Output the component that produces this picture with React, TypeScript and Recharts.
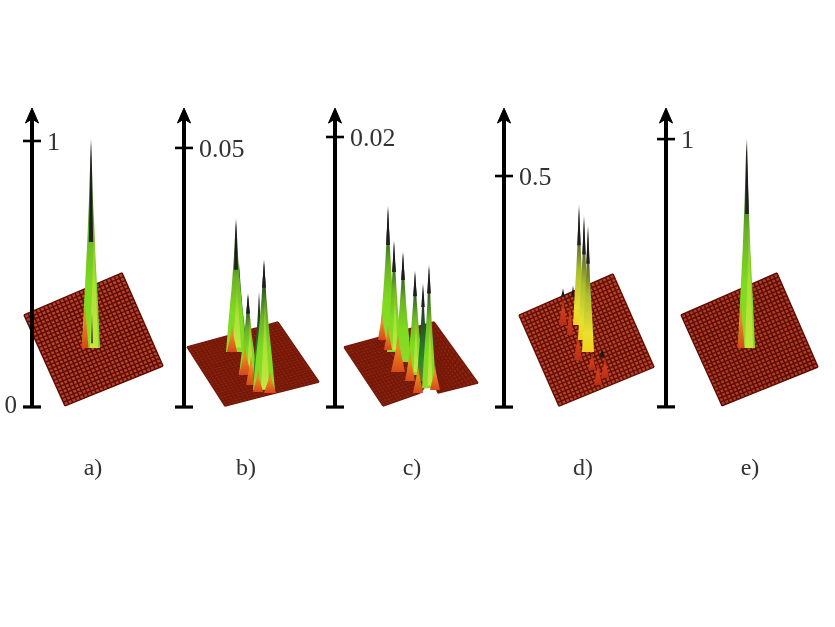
import React from "react";
import { ComposedChart, Area, Line, XAxis, YAxis } from "recharts";

type Pt = [number, number];
// strand: x, half width, base height, peak height, colour ramp
type Strand = [number, number, number, number, string];

// Heights are fractions of each panel's labelled tick value; x is the distance from the panel's axis.
const panelLabels = ["a)", "b)", "c)", "d)", "e)"];
const tickLabels = ["1", "0.05", "0.02", "0.5", "1"];
const zeroLabels = ["0", "", "", "", ""];
const panelLefts = [2, 154, 305, 474, 636];
const panelWidths = [135, 140, 150, 155, 160];
const yMins = [-0.049, -0.05, -0.048, -0.056, -0.049];
const yMaxs = [1.154, 1.185, 1.137, 1.329, 1.146];
const arrowTops = [1.124, 1.154, 1.107, 1.294, 1.116];
const captionXs = [61, 62, 77, 79, 84];

const floorsA: Pt[][] = [[[-8, 0.346], [90, 0.504], [131, 0.154], [33, 0.004]]];
const floorsB: Pt[][] = [[[3, 0.232], [94, 0.328], [135, 0.097], [41, 0.004]]];
const floorsC: Pt[][] = [
  [[9, 0.222], [42, 0.256], [85, 0.052], [48, 0.004]],
  [[97, 0.111], [99, 0.315], [143, 0.089], [103, 0.052]],
  [[42, 0.256], [99, 0.315], [97, 0.111], [85, 0.052]],
];
const floorsD: Pt[][] = [[[15, 0.398], [109, 0.576], [150, 0.173], [55, 0.004]]];
const floorsE: Pt[][] = [[[15, 0.343], [111, 0.5], [152, 0.149], [56, 0.004]]];

const strandsA: Strand[] = [
  [59, 9, 0.222, 1.015, "green"],
  [53, 3.5, 0.222, 0.4, "orange"],
  [62, 4, 0.222, 0.72, "lime"],
  [59, 2.2, 0.62, 1.015, "tip"],
  [60, 0.8, 0.24, 0.36, "tip"],
];
const strandsB: Strand[] = [
  [55, 8, 0.22, 0.56, "dark"],
  [52, 10, 0.212, 0.73, "green"],
  [53, 4, 0.23, 0.5, "lime"],
  [52, 2, 0.53, 0.73, "tip"],
  [48, 5, 0.212, 0.317, "orange"],
  [64, 9, 0.124, 0.44, "green"],
  [66, 3, 0.13, 0.36, "lime"],
  [64, 2, 0.36, 0.44, "tip"],
  [61, 6, 0.124, 0.239, "orange"],
  [67, 5, 0.085, 0.2, "orange"],
  [75, 6, 0.104, 0.452, "dark"],
  [80, 11, 0.066, 0.571, "green"],
  [81, 4, 0.07, 0.43, "lime"],
  [80, 2, 0.46, 0.571, "tip"],
  [74, 5, 0.058, 0.143, "orange"],
  [86, 6, 0.054, 0.135, "orange"],
];
const strandsC: Strand[] = [
  [53, 8, 0.248, 0.748, "green"],
  [53, 2, 0.6, 0.748, "tip"],
  [47, 4, 0.248, 0.352, "orange"],
  [59, 7, 0.204, 0.619, "green"],
  [59, 2, 0.5, 0.619, "tip"],
  [60, 2.5, 0.21, 0.46, "lime"],
  [53, 4, 0.211, 0.304, "orange"],
  [68, 8, 0.167, 0.578, "green"],
  [68, 2, 0.47, 0.578, "tip"],
  [63, 7, 0.13, 0.267, "orange"],
  [80, 8, 0.119, 0.507, "green"],
  [80, 2, 0.41, 0.507, "tip"],
  [81, 2.5, 0.13, 0.36, "lime"],
  [75, 5, 0.096, 0.211, "orange"],
  [88, 6, 0.096, 0.459, "dark"],
  [88, 1.8, 0.37, 0.459, "tip"],
  [94, 7, 0.07, 0.53, "green"],
  [94, 2, 0.42, 0.53, "tip"],
  [95, 2.5, 0.08, 0.36, "lime"],
  [83, 5, 0.052, 0.156, "orange"],
  [100, 5, 0.063, 0.156, "orange"],
];
const strandsD: Strand[] = [
  [59, 4, 0.355, 0.485, "red"],
  [66, 3, 0.312, 0.463, "red"],
  [59, 2, 0.476, 0.515, "tip"],
  [69, 2, 0.476, 0.528, "tip"],
  [74, 4, 0.203, 0.333, "red"],
  [88, 4, 0.16, 0.238, "red"],
  [94, 4, 0.095, 0.203, "red"],
  [101, 4, 0.126, 0.225, "red"],
  [98, 3, 0.216, 0.251, "tip"],
  [75, 6, 0.355, 0.879, "yellow"],
  [75, 1.8, 0.7, 0.879, "tip"],
  [80, 6, 0.29, 0.831, "yellow"],
  [80, 1.8, 0.66, 0.831, "tip"],
  [84, 6, 0.238, 0.788, "yellow"],
  [84, 1.8, 0.62, 0.788, "tip"],
];
const strandsE: Strand[] = [
  [80.5, 8.5, 0.22, 1.007, "green"],
  [75, 3.5, 0.22, 0.4, "orange"],
  [83, 4, 0.22, 0.72, "lime"],
  [81, 2, 0.72, 1.007, "tip"],
];

const floorCells = [
  [[25, 25]],
  [[25, 25]],
  [[11, 21], [11, 14], [11, 11]],
  [[25, 25]],
  [[25, 25]],
];
const allFloors = [floorsA, floorsB, floorsC, floorsD, floorsE];
const allStrands = [strandsA, strandsB, strandsC, strandsD, strandsE];
const floorFills = ["#b8432a", "#8e2410", "#8e2410", "#b8432a", "#b03c24"];
const meshStrokes = ["#5c0e06", "#741808", "#741808", "#620f06", "#5c0e06"];

const ramps: Record<string, [number, string][]> = {
  green: [[0, "#c8c8c8"], [0.05, "#222"], [0.17, "#2a3d18"], [0.3, "#447a22"], [0.45, "#6db325"], [0.7, "#7edb1e"], [1, "#8fd92a"]],
  lime: [[0, "#7fae2e"], [0.5, "#a9e038"], [1, "#c4e83e"]],
  dark: [[0, "#aaa"], [0.1, "#222"], [0.45, "#1e5a2a"], [0.8, "#2f8a2c"], [1, "#6a7a20"]],
  orange: [[0, "#9ca81f"], [0.35, "#e8901e"], [1, "#d8481a"]],
  yellow: [[0, "#999"], [0.1, "#333"], [0.3, "#5a5f28"], [0.55, "#a8bd30"], [0.85, "#e8e030"], [1, "#f0d020"]],
  red: [[0, "#8f2410"], [0.5, "#d03c1c"], [1, "#b82e14"]],
  tip: [[0, "#999"], [0.2, "#111"], [1, "#222"]],
};

const lerp = (a: Pt, b: Pt, t: number): Pt => [a[0] + (b[0] - a[0]) * t, a[1] + (b[1] - a[1]) * t];

function polygonBand(poly: Pt[]) {
  const xs = [...new Set(poly.map((p) => p[0]))].sort((p, q) => p - q);
  return xs.map((x) => {
    const ys: number[] = [];
    poly.forEach((p, i) => {
      const q = poly[(i + 1) % poly.length];
      const lo = Math.min(p[0], q[0]);
      const hi = Math.max(p[0], q[0]);
      if (x < lo || x > hi) return;
      if (p[0] === q[0]) ys.push(p[1], q[1]);
      else ys.push(p[1] + ((q[1] - p[1]) * (x - p[0])) / (q[0] - p[0]));
    });
    return { x, r: [Math.min(...ys), Math.max(...ys)] };
  });
}

function meshRows(c: Pt[], nu: number, nv: number) {
  const rows: { x: number; y: number | null }[] = [];
  const seg = (a: Pt, b: Pt) => {
    rows.push({ x: a[0], y: a[1] }, { x: b[0], y: b[1] }, { x: b[0], y: null });
  };
  for (let i = 0; i <= nu; i++) seg(lerp(c[0], c[1], i / nu), lerp(c[3], c[2], i / nu));
  for (let j = 0; j <= nv; j++) seg(lerp(c[0], c[3], j / nv), lerp(c[1], c[2], j / nv));
  return rows;
}

function strandBand([x, w, base, peak]: Strand) {
  const h = peak - base;
  return [
    { x: x - w, r: [base, base] },
    { x: x - w * 0.75, r: [base, base + h * 0.23] },
    { x: x - w * 0.45, r: [base, base + h * 0.47] },
    { x: x - w * 0.22, r: [base, base + h * 0.7] },
    { x, r: [base, peak] },
    { x: x + w * 0.22, r: [base, base + h * 0.7] },
    { x: x + w * 0.45, r: [base, base + h * 0.47] },
    { x: x + w * 0.75, r: [base, base + h * 0.23] },
    { x: x + w, r: [base, base] },
  ];
}

const AxisTick = (props: any, top: number, label: string, zero: string) => {
  const { y, payload } = props;
  const ax = 30;
  if (payload.value === top) {
    return <polygon points={`${ax},${y} ${ax + 6.5},${y + 15} ${ax},${y + 11} ${ax - 6.5},${y + 15}`} fill="#000" stroke="#000" strokeWidth={1} />;
  }
  const isZero = payload.value === 0;
  return (
    <g>
      <line x1={ax - 9} x2={ax + 9} y1={y} y2={y} stroke="#000" strokeWidth={isZero ? 3.2 : 2.6} />
      {isZero ? (
        zero ? (
          <text x={ax - 15} y={y + 6} textAnchor="end" fontFamily="Liberation Serif" fontSize={25} fill="#333">{zero}</text>
        ) : null
      ) : (
        <text x={ax + 15} y={y + 9} fontFamily="Liberation Serif" fontSize={26} fill="#333">{label}</text>
      )}
    </g>
  );
};

function Panel({ i }: { i: number }) {
  const w = panelWidths[i];
  const size = { width: w + 30, height: 390 };
  const layer = (top: number) => ({ position: "absolute" as const, left: panelLefts[i], top });
  return (
    <>
      <div style={layer(100)}>
        <ComposedChart {...size} margin={{ top: 0, right: 0, bottom: 0, left: 0 }}>
          <XAxis
            dataKey="x"
            type="number"
            domain={[-30, w]}
            ticks={[captionXs[i]]}
            tickFormatter={() => panelLabels[i]}
            axisLine={false}
            tickLine={false}
            height={70}
            tickMargin={32}
            interval={0}
            tick={{ fontFamily: "Liberation Serif", fontSize: 24, fill: "#333" }}
          />
          <YAxis
            type="number"
            domain={[yMins[i], yMaxs[i]]}
            ticks={[0, 1, arrowTops[i]]}
            interval={0}
            mirror
            width={30}
            axisLine={false}
            tickLine={false}
            tick={(p: any) => AxisTick(p, arrowTops[i], tickLabels[i], zeroLabels[i])}
          />
          {allFloors[i].map((poly, k) => (
            <Area key={`f${k}`} data={polygonBand(poly)} dataKey="r" type="linear" fill={floorFills[i]} fillOpacity={1} stroke="none" dot={false} activeDot={false} isAnimationActive={false} />
          ))}
          {allFloors[i].map((poly, k) => (
            <Line key={`m${k}`} data={meshRows(poly, floorCells[i][k][0], floorCells[i][k][1])} dataKey="y" type="linear" stroke={meshStrokes[i]} strokeWidth={1.5} dot={false} activeDot={false} isAnimationActive={false} />
          ))}
          <Line data={[{ x: 0, y: 0 }, { x: 0, y: arrowTops[i] * 0.98 }]} dataKey="y" type="linear" stroke="#000" strokeWidth={4} dot={false} activeDot={false} isAnimationActive={false} />
        </ComposedChart>
      </div>
      <div style={layer(100)}>
        <ComposedChart {...size} margin={{ top: 0, right: 0, bottom: 70, left: 0 }}>
          <defs>
            {Object.entries(ramps).map(([id, stops]) => (
              <linearGradient key={id} id={`ramp-${i}-${id}`} x1="0" y1="0" x2="0" y2="1">
                {stops.map(([o, c]) => (
                  <stop key={o} offset={o} stopColor={c} />
                ))}
              </linearGradient>
            ))}
          </defs>
          <XAxis dataKey="x" type="number" domain={[-30, w]} hide />
          <YAxis type="number" domain={[yMins[i], yMaxs[i]]} hide />
          {allStrands[i].map((s, k) => (
            <Area key={`s${k}`} data={strandBand(s)} dataKey="r" type="linear" fill={`url(#ramp-${i}-${s[4]})`} fillOpacity={1} stroke="none" dot={false} activeDot={false} isAnimationActive={false} />
          ))}
        </ComposedChart>
      </div>
    </>
  );
}

export default function App() {
  return (
    <div style={{ position: "absolute", left: 0, top: 0, width: 835, height: 627, background: "#fff", overflow: "hidden", filter: "blur(0.55px)" }}>
      {panelLabels.map((_, i) => (
        <Panel key={i} i={i} />
      ))}
    </div>
  );
}
